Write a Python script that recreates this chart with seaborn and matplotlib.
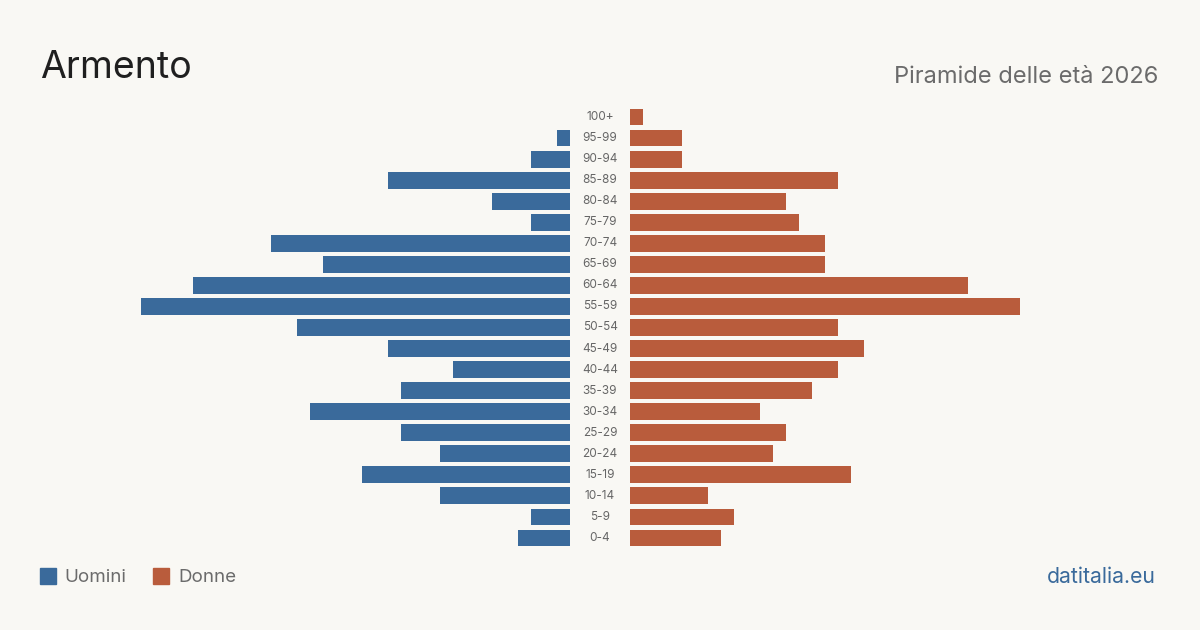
import matplotlib.pyplot as plt
import seaborn as sns
import pandas as pd

# age classes, top to bottom
age_groups = ['100+', '95-99', '90-94', '85-89', '80-84', '75-79', '70-74', '65-69',
              '60-64', '55-59', '50-54', '45-49', '40-44', '35-39', '30-34', '25-29',
              '20-24', '15-19', '10-14', '5-9', '0-4']
men = [0, 1, 3, 14, 6, 3, 23, 19, 29, 33, 21, 14, 9, 13, 20, 13, 10, 16, 10, 3, 4]
women = [1, 4, 4, 16, 12, 13, 15, 15, 26, 30, 16, 18, 16, 14, 10, 12, 11, 17, 6, 8, 7]

title = 'Armento'
subtitle = 'Piramide delle età 2026'
source = 'datitalia.eu'

BG = '#f9f8f4'
BLUE = '#3a6a9b'
ORANGE = '#b95c3c'
GREY = '#6b6b6b'

sns.set_theme(style='white')
plt.rcParams['font.family'] = ['Inter', 'DejaVu Sans']

df = pd.DataFrame({'age': age_groups, 'men': men, 'women': women})
xmax = 33

fig = plt.figure(figsize=(12, 6.3), dpi=100, facecolor=BG)
W, H = 1200, 630
bottom = (H - 548.5) / H
height = (548.5 - 106.5) / H
ax_m = fig.add_axes([141 / W, bottom, 429 / W, height])
ax_w = fig.add_axes([630 / W, bottom, 429 / W, height])

sns.barplot(data=df, y='age', x='men', color=BLUE, orient='h', width=0.8,
            saturation=1, linewidth=0, ax=ax_m)
sns.barplot(data=df, y='age', x='women', color=ORANGE, orient='h', width=0.8,
            saturation=1, linewidth=0, ax=ax_w)

ax_m.set_xlim(xmax, 0)
ax_w.set_xlim(0, xmax)
for ax in (ax_m, ax_w):
    ax.set_ylim(len(age_groups) - 0.5, -0.5)
    ax.set_facecolor('none')
    ax.set_xticks([])
    ax.set_yticks([])
    ax.set_xlabel('')
    ax.set_ylabel('')
    sns.despine(ax=ax, left=True, bottom=True)

# centre labels
for i, lab in enumerate(age_groups):
    y = 117 + i * (537 - 116) / 20
    fig.text(600 / W, 1 - y / H, lab, ha='center', va='center',
             fontsize=8.5, color='#666666')

fig.text(40 / W, 1 - 68 / H, title, ha='left', va='center', fontsize=27,
         color='#1f1f1f')
fig.text(1158 / W, 1 - 77 / H, subtitle, ha='right', va='center', fontsize=17,
         color=GREY)

# legend
fig.patches.append(plt.Rectangle((40 / W, 1 - 584 / H), 16 / W, 16 / H,
                                 transform=fig.transFigure, color=BLUE))
fig.text(64 / W, 1 - 577 / H, 'Uomini', ha='left', va='center', fontsize=13.5,
         color=GREY)
fig.patches.append(plt.Rectangle((153 / W, 1 - 584 / H), 16 / W, 16 / H,
                                 transform=fig.transFigure, color=ORANGE))
fig.text(178 / W, 1 - 577 / H, 'Donne', ha='left', va='center', fontsize=13.5,
         color=GREY)

fig.text(1156 / W, 1 - 577 / H, source, ha='right', va='center', fontsize=15.3,
         color=BLUE)

fig.savefig('out.png', dpi=100, facecolor=BG)
